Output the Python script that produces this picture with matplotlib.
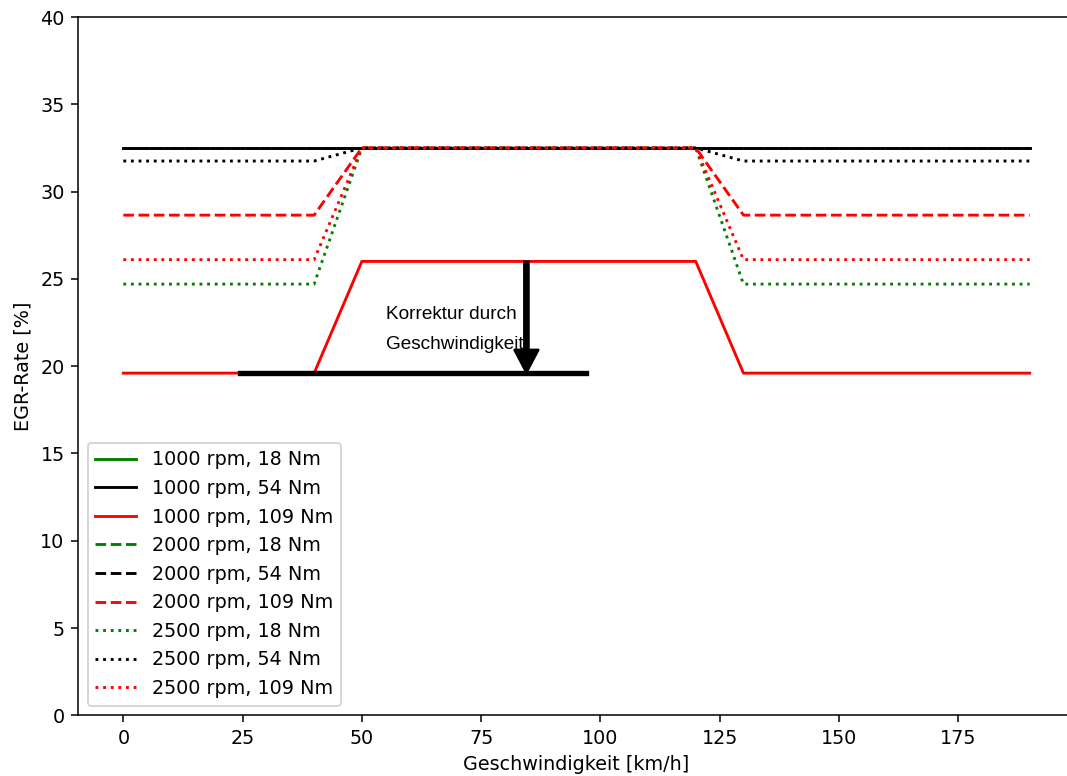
import numpy as np
import matplotlib
matplotlib.use('Agg')
import matplotlib.pyplot as plt

# Geschwindigkeit-Stuetzstellen [km/h]
speed = [0, 40, 50, 120, 130, 190]

# EGR-Rate [%] je Betriebspunkt
egr_1000_18 = [32.5, 32.5, 32.5, 32.5, 32.5, 32.5]
egr_1000_54 = [32.5, 32.5, 32.5, 32.5, 32.5, 32.5]
egr_1000_109 = [19.6, 19.6, 26.0, 26.0, 19.6, 19.6]
egr_2000_18 = [32.5, 32.5, 32.5, 32.5, 32.5, 32.5]
egr_2000_54 = [32.5, 32.5, 32.5, 32.5, 32.5, 32.5]
egr_2000_109 = [28.65, 28.65, 32.5, 32.5, 28.65, 28.65]
egr_2500_18 = [24.7, 24.7, 32.5, 32.5, 24.7, 24.7]
egr_2500_54 = [31.75, 31.75, 32.5, 32.5, 31.75, 31.75]
egr_2500_109 = [26.1, 26.1, 32.5, 32.5, 26.1, 26.1]

labels = ['1000 rpm, 18 Nm', '1000 rpm, 54 Nm', '1000 rpm, 109 Nm',
          '2000 rpm, 18 Nm', '2000 rpm, 54 Nm', '2000 rpm, 109 Nm',
          '2500 rpm, 18 Nm', '2500 rpm, 54 Nm', '2500 rpm, 109 Nm']
series = [egr_1000_18, egr_1000_54, egr_1000_109,
          egr_2000_18, egr_2000_54, egr_2000_109,
          egr_2500_18, egr_2500_54, egr_2500_109]
colors = ['green', 'black', 'red'] * 3
styles = ['-'] * 3 + ['--'] * 3 + [':'] * 3

# Korrektur-Markierung
base_x = [24.4, 97.0]
base_y = [19.6, 19.6]
arrow_x = 84.5
arrow_from = 26.0
arrow_to = 19.6

dpi = 138
fig = plt.figure(figsize=(1067 / dpi, 776 / dpi), dpi=dpi)
ax = fig.add_axes([78 / 1067, 60.7 / 776, 997 / 1067, 698.3 / 776])

for vals, lab, c, ls in zip(series, labels, colors, styles):
    ax.plot(speed, vals, color=c, linestyle=ls, linewidth=1.5, label=lab)

ax.plot(base_x, base_y, color='black', linewidth=2.8)
ax.arrow(arrow_x, arrow_from, 0, arrow_to - arrow_from, width=1.0,
         head_width=5.2, head_length=1.35, length_includes_head=True,
         color='black', zorder=4)
ax.text(55, 22.1, 'Korrektur durch\nGeschwindigkeit', family=['Liberation Sans', 'DejaVu Sans'],
        fontsize=9.9, va='center', ha='left', linespacing=2.0)

ax.set_ylim(0, 40)
ax.set_xlim(-9.5, 199.5)
ax.set_xticks([0, 25, 50, 75, 100, 125, 150, 175])
ax.set_xlabel('Geschwindigkeit [km/h]')
ax.set_ylabel('EGR-Rate [%]')
ax.legend(loc='lower left', handlelength=2.15)

fig.savefig('out.png', dpi=dpi)
